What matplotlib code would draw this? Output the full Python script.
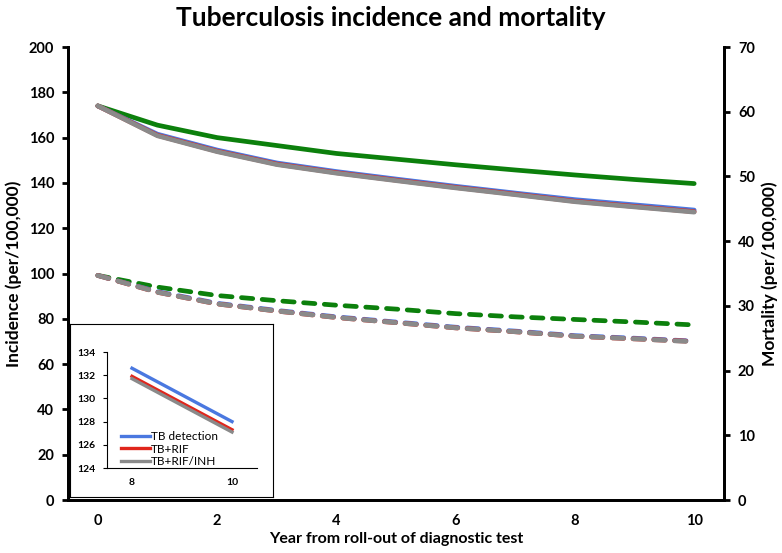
import matplotlib
matplotlib.use("Agg")
import matplotlib.pyplot as plt

plt.rcParams['font.family'] = ['Lato', 'DejaVu Sans']

years = list(range(0, 11))
year_ticks = [0, 2, 4, 6, 8, 10]

# Incidence (per 100,000), left axis
inc_current = [174.0, 165.5, 160.0, 156.5, 153.0, 150.5, 148.0, 145.7, 143.5, 141.5, 139.7]
inc_tb = [174.0, 161.5, 154.5, 148.8, 145.0, 141.7, 138.5, 135.5, 132.6, 130.3, 128.0]
inc_rif = [174.0, 161.0, 154.0, 148.3, 144.5, 141.2, 138.0, 135.0, 131.9, 129.6, 127.3]
inc_inh = [174.0, 160.8, 153.8, 148.1, 144.3, 141.0, 137.8, 134.8, 131.7, 129.4, 127.1]

# Mortality (per 100,000), right axis
mort_current = [34.7, 32.9, 31.6, 30.8, 30.1, 29.5, 28.8, 28.3, 27.9, 27.5, 27.05]
mort_tb = [34.7, 32.2, 30.4, 29.3, 28.3, 27.5, 26.7, 26.1, 25.4, 25.0, 24.55]
mort_rif = [34.7, 32.1, 30.3, 29.2, 28.2, 27.4, 26.6, 26.0, 25.3, 24.9, 24.5]
mort_inh = [34.7, 32.1, 30.3, 29.2, 28.2, 27.4, 26.6, 26.0, 25.3, 24.9, 24.45]

labels = ['TB detection', 'TB+RIF', 'TB+RIF/INH']
inset_start = 8

c_green = '#0c800c'
c_blue = '#4a78e0'
c_red = '#e0261c'
c_gray = '#8a8a8a'

W, H = 782, 553
fig = plt.figure(figsize=(W / 100, H / 100), dpi=100)

def fbox(x0, y0, x1, y1):
    return [x0 / W, 1 - y1 / H, (x1 - x0) / W, (y1 - y0) / H]

ax = fig.add_axes(fbox(68, 47, 724, 500))
ax2 = ax.twinx()

lw = 3.4
for vals, c in [(inc_current, c_green), (inc_tb, c_blue), (inc_rif, c_red), (inc_inh, c_gray)]:
    ax.plot(years, vals, color=c, lw=lw, solid_capstyle='round', solid_joinstyle='round')
for vals, c in [(mort_current, c_green), (mort_tb, c_blue), (mort_rif, c_red), (mort_inh, c_gray)]:
    ax2.plot(years, vals, color=c, lw=lw, linestyle=(0, (2.4, 2.0)), dash_capstyle='round')

ax.set_xlim(-0.5, 10.5)
ax.set_ylim(0, 200)
ax2.set_ylim(0, 70)
ax.set_yticks(range(0, 201, 20))
ax2.set_yticks(range(0, 71, 10))
ax.set_xticks(year_ticks)

for a in (ax, ax2):
    a.spines['top'].set_visible(False)
    for s in ('left', 'right', 'bottom'):
        a.spines[s].set_linewidth(2.0)
        a.spines[s].set_color('black')
ax.tick_params(axis='y', direction='out', length=4, width=2, labelsize=10.5, pad=6)
ax2.tick_params(axis='y', direction='out', length=4, width=2, labelsize=10.5, pad=6)
ax.tick_params(axis='x', length=0, labelsize=10.5, pad=10)
for lab in ax.get_xticklabels() + ax.get_yticklabels() + ax2.get_yticklabels():
    lab.set_fontweight('bold')

ax.set_ylabel('Incidence (per/100,000)', fontsize=12.5, fontweight='bold', labelpad=5)
ax2.set_ylabel('Mortality (per/100,000)', fontsize=12.5, fontweight='bold', labelpad=5)
ax.set_xlabel('Year from roll-out of diagnostic test', fontsize=11.5, fontweight='bold', labelpad=3)
fig.text(391 / W, 1 - 18 / H, 'Tuberculosis incidence and mortality', ha='center', va='center',
         fontsize=19, fontweight='bold')

# Inset frame
frame = fig.add_axes(fbox(70, 324, 273, 497))
frame.set_xticks([])
frame.set_yticks([])
for s in frame.spines.values():
    s.set_linewidth(0.8)
    s.set_color('black')
frame.set_facecolor('white')

ins = fig.add_axes(fbox(107, 352, 257, 468))
ins.set_facecolor('none')
iy = years[inset_start:]
for vals, c, lab in [(inc_tb, c_blue, labels[0]), (inc_rif, c_red, labels[1]), (inc_inh, c_gray, labels[2])]:
    ins.plot(iy, vals[inset_start:], color=c, lw=2.4, label=lab)
ins.set_xlim(7.5, 10.5)
ins.set_ylim(124, 134)
ins.set_yticks(range(124, 135, 2))
ins.set_xticks([8, 10])
for s in ('top', 'right'):
    ins.spines[s].set_visible(False)
for s in ('left', 'bottom'):
    ins.spines[s].set_linewidth(0.8)
ins.tick_params(axis='y', direction='out', length=3, width=0.8, labelsize=7.5, pad=5)
ins.tick_params(axis='x', length=0, labelsize=7.5, pad=7)
for lab in ins.get_xticklabels() + ins.get_yticklabels():
    lab.set_fontweight('bold')
ins.legend(loc='lower left', bbox_to_anchor=(0.04, -0.06), frameon=False, fontsize=8.5,
           handlelength=2.4, handletextpad=0.1, labelspacing=0.1, borderpad=0.2)

fig.savefig('out.png', dpi=100)
